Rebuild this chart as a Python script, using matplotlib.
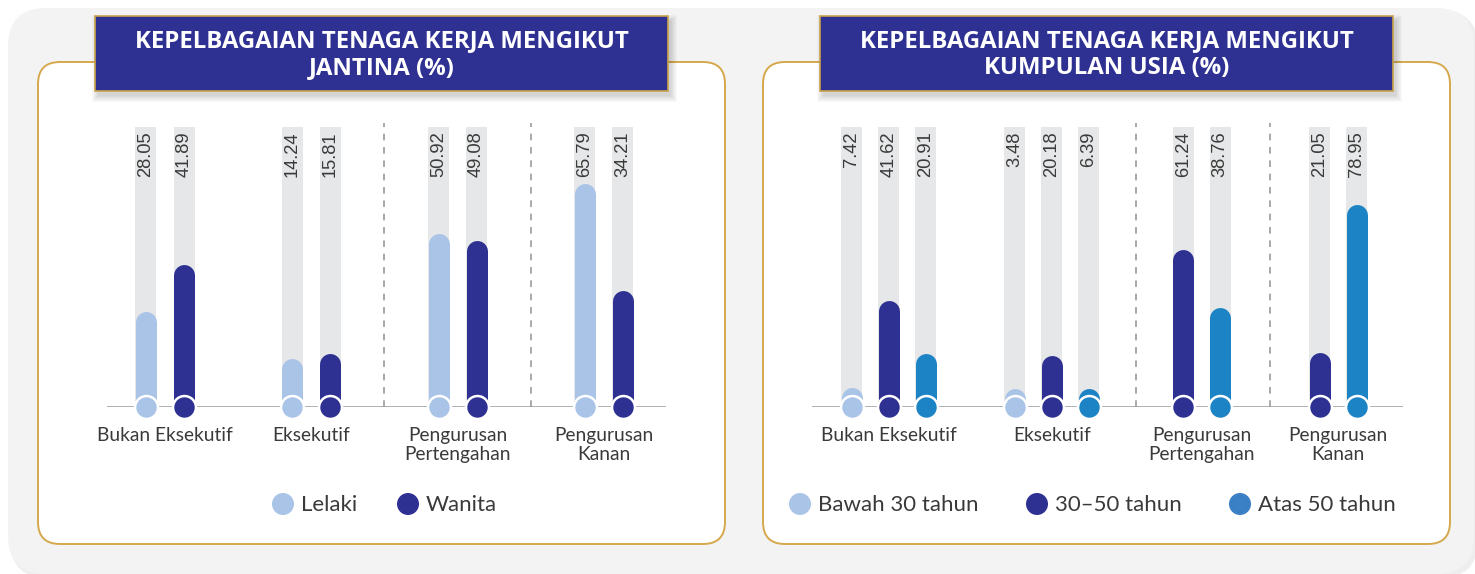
import matplotlib
matplotlib.use("Agg")
import matplotlib.pyplot as plt
from matplotlib.patches import FancyBboxPatch, Rectangle, Circle

# ---------------- data ----------------
categories = ["Bukan Eksekutif", "Eksekutif", "Pengurusan\nPertengahan", "Pengurusan\nKanan"]

gender_title = "KEPELBAGAIAN TENAGA KERJA MENGIKUT\nJANTINA (%)"
gender_series = ["Lelaki", "Wanita"]
lelaki = [28.05, 14.24, 50.92, 65.79]
wanita = [41.89, 15.81, 49.08, 34.21]

age_title = "KEPELBAGAIAN TENAGA KERJA MENGIKUT\nKUMPULAN USIA (%)"
age_series = ["Bawah 30 tahun", "30–50 tahun", "Atas 50 tahun"]
bawah30 = [7.42, 3.48, None, None]
antara30_50 = [41.62, 20.18, 61.24, 21.05]
atas50 = [20.91, 6.39, 38.76, 78.95]

# ---------------- style ----------------
W, H = 1475, 574
LIGHT = "#aac4e8"
NAVY = "#2e3192"
BLUE = "#1c83c5"
BLUE_LEG = "#3a80c4"
TRACK = "#e6e7e8"
GOLD = "#d6a84c"
TXT = "#3a3a3a"
FONT = ["Lato", "DejaVu Sans"]
TITLEFONT = ["Open Sans", "DejaVu Sans"]
NUMFONT = ["Liberation Sans", "DejaVu Sans"]

fig = plt.figure(figsize=(W / 100, H / 100), dpi=100)
fig.patch.set_facecolor("white")

# background axes in pixel coordinates (decoration only)
bg = fig.add_axes([0, 0, 1, 1])
bg.set_xlim(0, W)
bg.set_ylim(H, 0)
bg.axis("off")
bg.set_zorder(0)


def rbox(x0, y0, x1, y1, r, **kw):
    p = FancyBboxPatch((x0 + r, y0 + r), (x1 - x0) - 2 * r, (y1 - y0) - 2 * r,
                       boxstyle=f"round,pad={r}", **kw)
    bg.add_patch(p)
    return p


# outer grey card with soft shadow
rbox(10, 10, 1478, 578, 38, facecolor="#e4e4e4", edgecolor="none", alpha=0.6)
rbox(8, 8, 1474, 574, 38, facecolor="#f3f3f3", edgecolor="none")

# white panels
PANELS = [(38, 62, 725, 544), (763, 62, 1450, 544)]
for (x0, y0, x1, y1) in PANELS:
    rbox(x0, y0, x1, y1, 22, facecolor="white", edgecolor=GOLD, linewidth=1.4)

# title boxes
TITLE_BOXES = [(95, 16, 668, 91), (820, 16, 1393, 91)]
for (x0, y0, x1, y1), t in zip(TITLE_BOXES, [gender_title, age_title]):
    for i in range(7):
        bg.add_patch(Rectangle((x0 + 3 - i, y0 + 5 - i), (x1 - x0) + 2 * i, (y1 - y0) + 2 * i,
                               facecolor="#000000", edgecolor="none", alpha=0.025))
    bg.add_patch(Rectangle((x0, y0), x1 - x0, y1 - y0, facecolor=NAVY,
                           edgecolor="#c9a24a", linewidth=1.2))
    bg.text((x0 + x1) / 2, (y0 + y1) / 2 + 1, t, color="white", fontsize=17.3,
            fontweight="bold", family=TITLEFONT, ha="center", va="center",
            linespacing=1.2)


def px_rect(x0, y0, x1, y1):
    return [x0 / W, 1 - y1 / H, (x1 - x0) / W, (y1 - y0) / H]


def draw_chart(rect_px, xlim, centers, slot, series_vals, colors, ylim_top, sep_pairs):
    x0, y0, x1, y1 = rect_px
    ax = fig.add_axes(px_rect(x0, y0, x1, y1))
    ax.set_zorder(2)
    ax.patch.set_alpha(0)
    ax.set_xlim(*xlim)
    ax.set_ylim(0, ylim_top)
    ax.axis("off")
    ppu_x = (x1 - x0) / (xlim[1] - xlim[0])
    ppu_y = (y1 - y0) / ylim_top
    bw = 21 / ppu_x
    r_units = 10.5 / ppu_y
    lw_pt = 21 * 0.72

    ax.axhline(0, color="#a7a9ac", lw=1.3, zorder=2)

    positions = []
    for g, c in enumerate(centers):
        present = [s for s in range(len(series_vals)) if series_vals[s][g] is not None]
        n = len(present)
        gp = []
        for k, s in enumerate(present):
            x = c + (k - (n - 1) / 2) * slot
            v = series_vals[s][g]
            gp.append(x)
            ax.bar(x, ylim_top, width=bw, bottom=0, color=TRACK, zorder=1, linewidth=0)
            end = max(v - r_units, 0.75 * r_units)
            ax.plot([x, x], [0, end], color=colors[s], lw=lw_pt,
                    solid_capstyle="round", zorder=3)
            ax.plot([x], [0], marker="o", ms=16.5, mfc=colors[s], mec="white",
                    mew=1.8, zorder=4, clip_on=False)
            ax.annotate(f"{v:.2f}", xy=(x, ylim_top), xytext=(0, -3),
                        textcoords="offset points", rotation=90, ha="center",
                        va="top", fontsize=13.2, family=NUMFONT, color=TXT, zorder=5)
        positions.append(gp)
        ax.annotate(categories[g], xy=(c, 0), xytext=(0, -14.5),
                    textcoords="offset points", ha="center", va="top",
                    fontsize=13.8, family=FONT, color=TXT, linespacing=1.1)
    for (a, b) in sep_pairs:
        xs = (positions[a][-1] + positions[b][0]) / 2
        ax.plot([xs, xs], [0, ylim_top + 4 / ppu_y], color="#9b9b9b", lw=1.2,
                ls=(0, (4, 4)), zorder=2, clip_on=False)
    return ax


# left chart: group units (146.3 px per group)
draw_chart((107, 127, 666, 407), (-0.3964, 3.4245), [0, 1, 2, 3], 0.26,
           [lelaki, wanita], [LIGHT, NAVY], 82.4, [(1, 2), (2, 3)])

# right chart: slot units (37 px per slot)
draw_chart((812, 127, 1403, 407), (-2.081, 13.892), [0, 4.4, 8.45, 12.14], 1.0,
           [bawah30, antara30_50, atas50], [LIGHT, NAVY, BLUE], 109.0, [(1, 2), (2, 3)])

# legends
LEG_Y = 504
legend_specs = [
    (gender_series, [LIGHT, NAVY], [283, 408]),
    (age_series, [LIGHT, NAVY, BLUE_LEG], [800, 1037, 1240]),
]
for labels, cols, xs in legend_specs:
    for lab, col, x in zip(labels, cols, xs):
        bg.add_patch(Circle((x, LEG_Y), 11, facecolor=col, edgecolor="none"))
        bg.text(x + 18, LEG_Y + 1, lab, fontsize=16, family=FONT, color=TXT,
                ha="left", va="center")

fig.savefig("out.png", dpi=100, facecolor="white")
